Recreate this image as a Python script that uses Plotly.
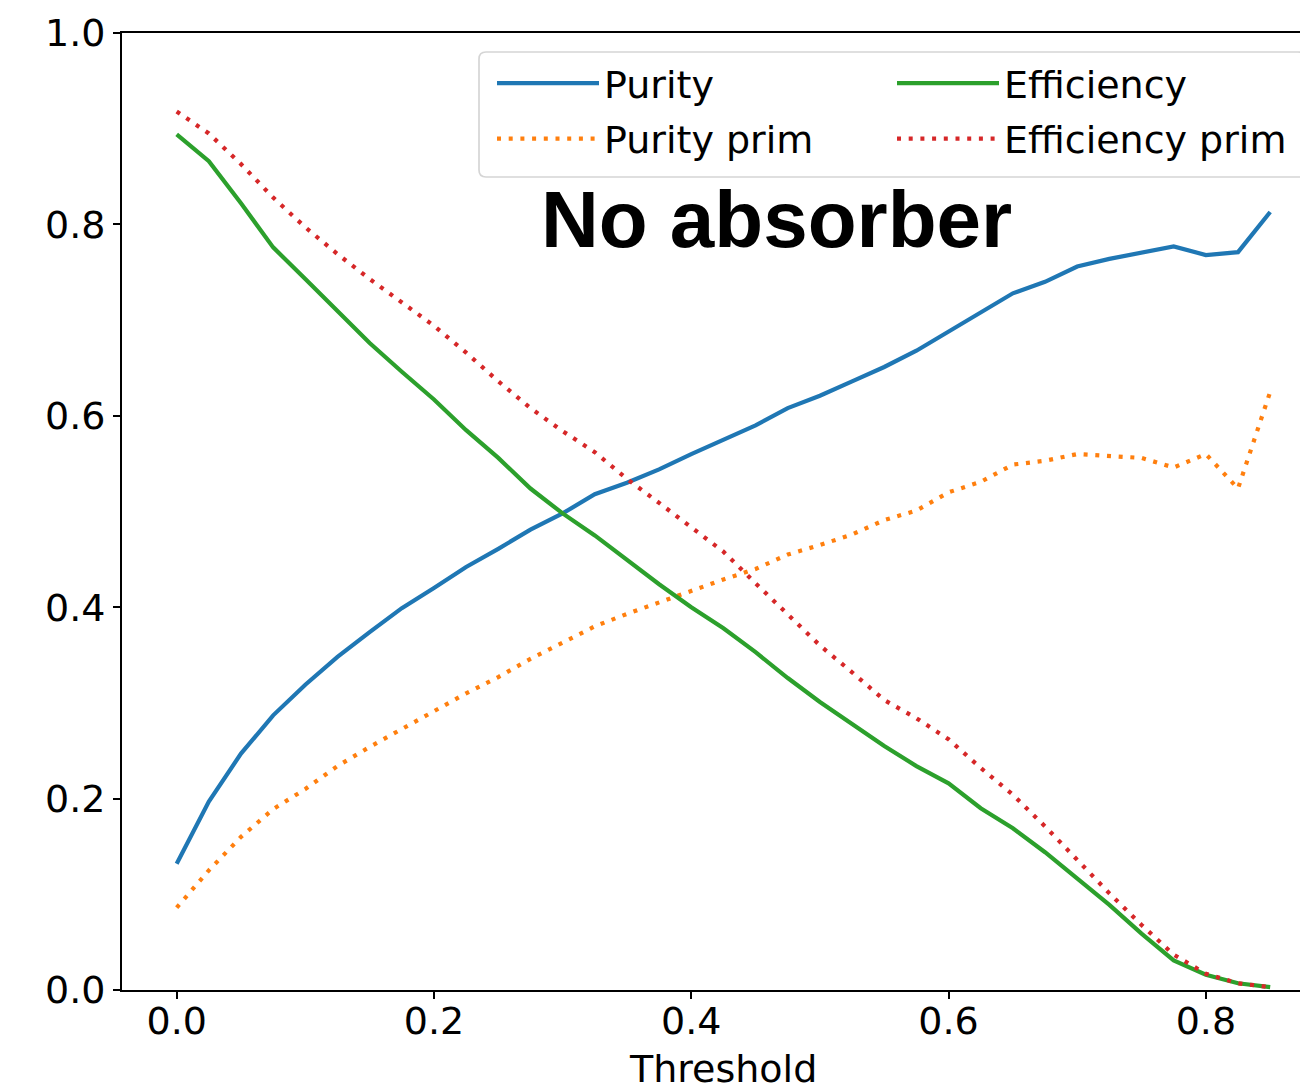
import plotly.graph_objects as go

threshold = [round(0.025 * i, 3) for i in range(35)]

purity = [0.132, 0.197, 0.247, 0.287, 0.319, 0.348, 0.374, 0.399, 0.420, 0.442,
          0.461, 0.481, 0.498, 0.518, 0.530, 0.544, 0.560, 0.575, 0.590, 0.608,
          0.621, 0.636, 0.651, 0.668, 0.688, 0.708, 0.728, 0.740, 0.756, 0.764,
          0.771, 0.777, 0.768, 0.771, 0.813]

purity_prim = [0.086, 0.125, 0.160, 0.189, 0.210, 0.234, 0.254, 0.273, 0.291, 0.310,
               0.327, 0.346, 0.363, 0.380, 0.393, 0.405, 0.418, 0.429, 0.440, 0.455,
               0.465, 0.476, 0.491, 0.501, 0.520, 0.531, 0.549, 0.553, 0.560, 0.558,
               0.556, 0.546, 0.560, 0.524, 0.625]

efficiency = [0.894, 0.866, 0.822, 0.776, 0.743, 0.709, 0.676, 0.646, 0.617, 0.585,
              0.556, 0.524, 0.498, 0.475, 0.449, 0.424, 0.400, 0.378, 0.353, 0.326,
              0.301, 0.278, 0.255, 0.234, 0.216, 0.190, 0.169, 0.144, 0.117, 0.089,
              0.059, 0.031, 0.016, 0.007, 0.003]

efficiency_prim = [0.918, 0.895, 0.863, 0.828, 0.797, 0.769, 0.743, 0.718, 0.694, 0.666,
                   0.636, 0.608, 0.584, 0.562, 0.534, 0.509, 0.484, 0.458, 0.425, 0.393,
                   0.360, 0.332, 0.303, 0.284, 0.262, 0.232, 0.204, 0.171, 0.136, 0.101,
                   0.068, 0.037, 0.017, 0.007, 0.003]

x_ticks = [0.0, 0.2, 0.4, 0.6, 0.8]
y_ticks = [0.0, 0.2, 0.4, 0.6, 0.8, 1.0]
x_range = [-0.0425, 0.8794]
x_full_range = [-0.0425, 0.8925]   # matplotlib axis extent (right part cropped off)

FONT = "DejaVu Sans"
FS = 38
DOT = "4px,7.7px"

# page body has an 8px default margin: figure sized/offset to compensate
OFF = 8
W, H = 1308 - OFF, 1083 - OFF
ML, MR, MT, MB = 122 - OFF, 0, 33 - OFF, 93
PW, PH = W - ML - MR, H - MT - MB


def px_to_paper(px, py):
    # px, py given in window pixel coordinates
    return (px - OFF - ML) / PW, (H - MB - (py - OFF)) / PH


fig = go.Figure()
fig.add_trace(go.Scatter(x=threshold, y=purity, mode="lines", name="Purity",
                         legend="legend", legendgroup="a",
                         line=dict(color="#1f77b4", width=4.2)))
fig.add_trace(go.Scatter(x=threshold, y=purity_prim, mode="lines", name="Purity prim",
                         legend="legend", legendgroup="b",
                         line=dict(color="#ff7f0e", width=4.2, dash=DOT)))
fig.add_trace(go.Scatter(x=threshold, y=efficiency, mode="lines", name="Efficiency",
                         legend="legend2", legendgroup="c",
                         line=dict(color="#2ca02c", width=4.2)))
fig.add_trace(go.Scatter(x=threshold, y=efficiency_prim, mode="lines", name="Efficiency prim",
                         legend="legend2", legendgroup="d",
                         line=dict(color="#d62728", width=4.2, dash=DOT)))

fig.add_annotation(text="<b>No absorber</b>", x=0.2815, y=0.805, xref="x", yref="y",
                   xanchor="left", yanchor="middle", showarrow=False,
                   font=dict(family="Liberation Sans", size=80, color="black"))

# x-axis title, centred on the full (uncropped) axis extent
_, ty = px_to_paper(0, 1045)
fig.add_annotation(text="Threshold", x=sum(x_full_range) / 2, y=ty, xref="x", yref="paper",
                   xanchor="center", yanchor="top", showarrow=False,
                   font=dict(family=FONT, size=FS, color="black"))

# legend frame (rounded box)
bx0, by0 = px_to_paper(479, 177)
bx1, by1 = px_to_paper(1305, 52)
rx, ry = 7 / PW, 7 / PH
frame = (f"M{bx0+rx},{by1} L{bx1-rx},{by1} Q{bx1},{by1} {bx1},{by1-ry} "
         f"L{bx1},{by0+ry} Q{bx1},{by0} {bx1-rx},{by0} L{bx0+rx},{by0} "
         f"Q{bx0},{by0} {bx0},{by0+ry} L{bx0},{by1-ry} Q{bx0},{by1} {bx0+rx},{by1} Z")
fig.add_shape(type="path", path=frame, xref="paper", yref="paper",
              line=dict(color="#d5d5d5", width=1.7),
              fillcolor="rgba(255,255,255,0.8)", layer="above")

lx1, ly = px_to_paper(492, 52)
lx2, _ = px_to_paper(892, 52)
leg_common = dict(orientation="v", xanchor="left", yanchor="top", y=ly,
                  bgcolor="rgba(0,0,0,0)", borderwidth=0, itemwidth=102,
                  tracegroupgap=3,
                  font=dict(family=FONT, size=FS, color="black"))

fig.update_layout(
    width=W, height=H,
    margin=dict(l=ML, r=MR, t=MT, b=MB),
    plot_bgcolor="white", paper_bgcolor="white",
    font=dict(family=FONT, size=FS, color="black"),
    showlegend=True,
    legend=dict(x=lx1, **leg_common),
    legend2=dict(x=lx2, **leg_common),
)
fig.update_xaxes(range=x_range, tickvals=x_ticks,
                 ticktext=[f"{v:.1f}" for v in x_ticks], automargin=False,
                 showgrid=False, zeroline=False, showline=True, linecolor="black",
                 linewidth=1.7, mirror=True, ticks="outside", ticklen=7, tickwidth=1.7,
                 tickcolor="black", tickfont=dict(size=FS), ticklabelstandoff=-10)
fig.update_yaxes(range=[0, 1], tickvals=y_ticks,
                 ticktext=[f"{v:.1f}" for v in y_ticks], automargin=False,
                 showgrid=False, zeroline=False, showline=True, linecolor="black",
                 linewidth=1.7, mirror=False, ticks="outside", ticklen=7, tickwidth=1.7,
                 tickcolor="black", tickfont=dict(size=FS))

fig.write_html("out.html")
